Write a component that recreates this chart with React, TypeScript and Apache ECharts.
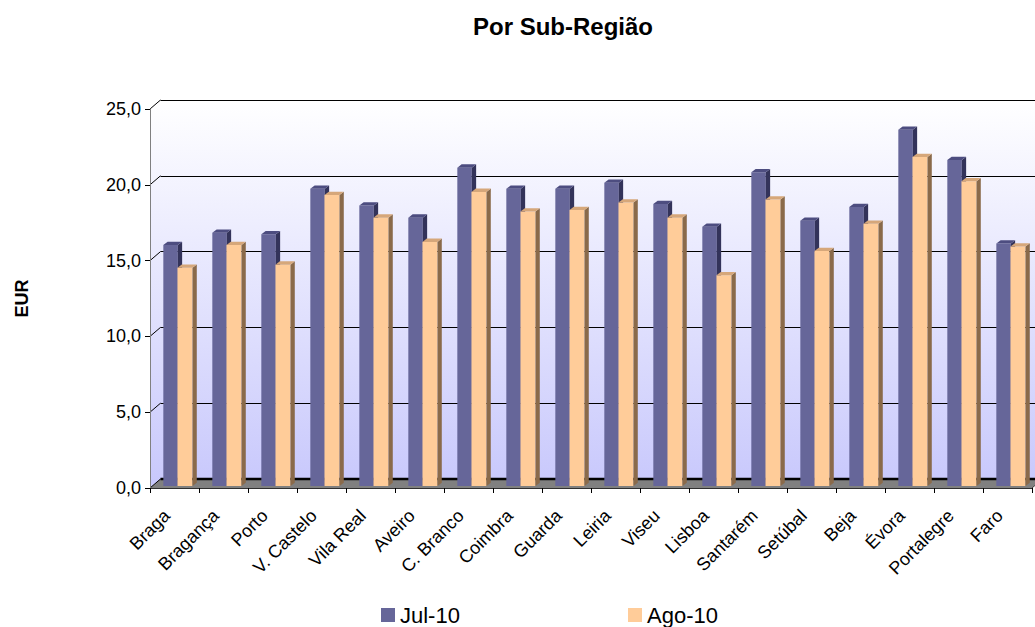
import React, { useEffect, useRef } from "react";
import * as echarts from "echarts";

const categories = [
  "Braga", "Bragança", "Porto", "V. Castelo", "Vila Real", "Aveiro", "C. Branco", "Coimbra", "Guarda",
  "Leiria", "Viseu", "Lisboa", "Santarém", "Setúbal", "Beja", "Évora", "Portalegre", "Faro",
];
const jul10 = [15.9, 16.7, 16.6, 19.6, 18.5, 17.7, 21.0, 19.6, 19.6, 20.0, 18.6, 17.1, 20.7, 17.5, 18.4, 23.5, 21.5, 16.0];
const ago10 = [14.4, 15.9, 14.6, 19.2, 17.7, 16.1, 19.4, 18.1, 18.2, 18.7, 17.7, 13.9, 18.9, 15.5, 17.3, 21.7, 20.1, 15.8];
const yTicks = [0, 5, 10, 15, 20, 25];
const seriesNames = ["Jul-10", "Ago-10"];

const FONT = "'Liberation Sans', Arial, Helvetica, sans-serif";

// layout (pixels)
const FL = 150; // front y-axis x
const FR = 1032; // front x-axis end
const FT = 109; // front top (25)
const FB = 488; // front bottom (0)
const DX = 10.5; // depth offset x
const DY = 9; // depth offset y
const yOf = (v: number) => FB - (v / 25) * (FB - FT);

function make3D(front: string, side: string, top: string, off: number, wid: number) {
  return (params: any, api: any) => {
    const idx = api.value(0);
    const v = api.value(1);
    const bw = api.size([1, 0])[0];
    const pTop = api.coord([idx, v]);
    const pBase = api.coord([idx, 0]);
    const lift = 2;
    const yTop = pTop[1] - lift;
    const yBase = pBase[1] - lift;
    const x0 = pTop[0] + off * bw;
    const w = wid * bw;
    const dx = 4.3;
    const dy = 3.3;
    return {
      type: "group",
      children: [
        { type: "rect", shape: { x: x0, y: yTop, width: w, height: yBase - yTop }, style: { fill: front } },
        {
          type: "polygon",
          shape: { points: [[x0 + w, yTop], [x0 + w + dx, yTop - dy], [x0 + w + dx, yBase - dy], [x0 + w, yBase]] },
          style: { fill: side },
        },
        {
          type: "polygon",
          shape: { points: [[x0, yTop], [x0 + dx, yTop - dy], [x0 + w + dx, yTop - dy], [x0 + w, yTop]] },
          style: { fill: top },
        },
      ],
    };
  };
}

export default function App() {
  const ref = useRef<HTMLDivElement>(null);
  useEffect(() => {
    if (!ref.current) return;
    const chart = echarts.init(ref.current, undefined, { renderer: "svg" });

    const graphics: any[] = [
      {
        type: "polygon",
        z: -10,
        shape: {
          points: [[FL, FT], [FL + DX, FT - DY], [1035, FT - DY], [1035, FB - DY], [FL + DX, FB - DY], [FL, FB]],
        },
        style: {
          fill: new echarts.graphic.LinearGradient(0, 0, 0, 1, [
            { offset: 0, color: "#ffffff" },
            { offset: 1, color: "#c8c8fc" },
          ]),
        },
      },
      {
        type: "polygon",
        z: 1,
        shape: { points: [[FL, FB], [FL + DX, FB - DY], [FR + DX, FB - DY], [FR, FB]] },
        style: { fill: "#808080" },
      },
      {
        type: "line",
        z: 1.5,
        shape: { x1: FL + DX, y1: FB - DY, x2: 1035, y2: FB - DY },
        style: { stroke: "#000", lineWidth: 2.5 },
      },
      {
        type: "line",
        z: 1.5,
        shape: { x1: FR, y1: FB, x2: FR + DX, y2: FB - DY },
        style: { stroke: "#404040", lineWidth: 1 },
      },
    ];
    yTicks.forEach((t) => {
      graphics.push({
        type: "line",
        z: 1.5,
        shape: { x1: FL, y1: yOf(t), x2: FL + DX, y2: yOf(t) - DY },
        style: { stroke: "#000", lineWidth: 1 },
      });
    });

    chart.setOption({
      animation: false,
      backgroundColor: "#ffffff",
      textStyle: { fontFamily: FONT },
      title: {
        text: "Por Sub-Região",
        left: 558,
        textAlign: "center",
        top: 9,
        textStyle: { fontSize: 24, fontWeight: "bold", color: "#000", fontFamily: FONT },
      },
      legend: [
        {
          data: [{ name: seriesNames[0], icon: "rect" }],
          left: 376,
          top: 599,
          itemWidth: 14,
          itemHeight: 14,
          textStyle: { fontSize: 22, color: "#000", fontFamily: FONT },
        },
        {
          data: [{ name: seriesNames[1], icon: "rect" }],
          left: 623,
          top: 599,
          itemWidth: 14,
          itemHeight: 14,
          textStyle: { fontSize: 22, color: "#000", fontFamily: FONT },
        },
      ],
      grid: [
        { left: FL, top: FT, width: FR - FL, height: FB - FT, containLabel: false },
        { left: FL + DX, top: FT - DY, width: 1035 - FL - DX + 5, height: FB - FT, containLabel: false },
      ],
      xAxis: [
        {
          type: "category",
          gridIndex: 0,
          data: categories,
          z: 3,
          axisLine: { show: true, lineStyle: { color: "#303030", width: 1 } },
          axisTick: { show: true, length: 5, lineStyle: { color: "#000" } },
          axisLabel: {
            interval: 0,
            rotate: 45,
            margin: 17,
            padding: [0, 11, 0, 0],
            fontSize: 18,
            color: "#000",
            fontFamily: FONT,
          },
          splitLine: { show: false },
        },
        {
          type: "category",
          gridIndex: 1,
          data: categories,
          show: false,
        },
      ],
      yAxis: [
        {
          type: "value",
          gridIndex: 0,
          min: 0,
          max: 25,
          interval: 5,
          z: 3,
          name: "EUR",
          nameLocation: "middle",
          nameRotate: 90,
          nameGap: 119,
          nameTextStyle: { fontSize: 18, fontWeight: "bold", color: "#000", fontFamily: FONT },
          axisLine: { show: true, lineStyle: { color: "#808080", width: 1 } },
          axisTick: { show: true, length: 5, lineStyle: { color: "#000" } },
          axisLabel: {
            margin: 9,
            fontSize: 18,
            color: "#000",
            fontFamily: FONT,
            formatter: (v: number) => v.toFixed(1).replace(".", ","),
          },
          splitLine: { show: false },
        },
        {
          type: "value",
          gridIndex: 1,
          min: 0,
          max: 25,
          interval: 5,
          axisLine: { show: false },
          axisTick: { show: false },
          axisLabel: { show: false },
          splitLine: { show: true, lineStyle: { color: "#000", width: 1 } },
        },
      ],
      graphic: graphics,
      series: [
        {
          type: "custom",
          name: seriesNames[0],
          xAxisIndex: 0,
          yAxisIndex: 0,
          z: 2,
          itemStyle: { color: "#666699" },
          encode: { x: 0, y: 1 },
          data: jul10.map((v, i) => [i, v]),
          renderItem: make3D("#666699", "#33335a", "#4d4d80", -0.228, 0.296),
        },
        {
          type: "custom",
          name: seriesNames[1],
          xAxisIndex: 0,
          yAxisIndex: 0,
          z: 2,
          itemStyle: { color: "#ffcc99" },
          encode: { x: 0, y: 1 },
          data: ago10.map((v, i) => [i, v]),
          renderItem: make3D("#ffcc99", "#8a6a4a", "#d6a77a", 0.061, 0.306),
        },
      ],
    });
    return () => chart.dispose();
  }, []);
  return (
    <div
      ref={ref}
      style={{ position: "fixed", left: 0, top: 0, width: 1035, height: 627, background: "#fff" }}
    />
  );
}
